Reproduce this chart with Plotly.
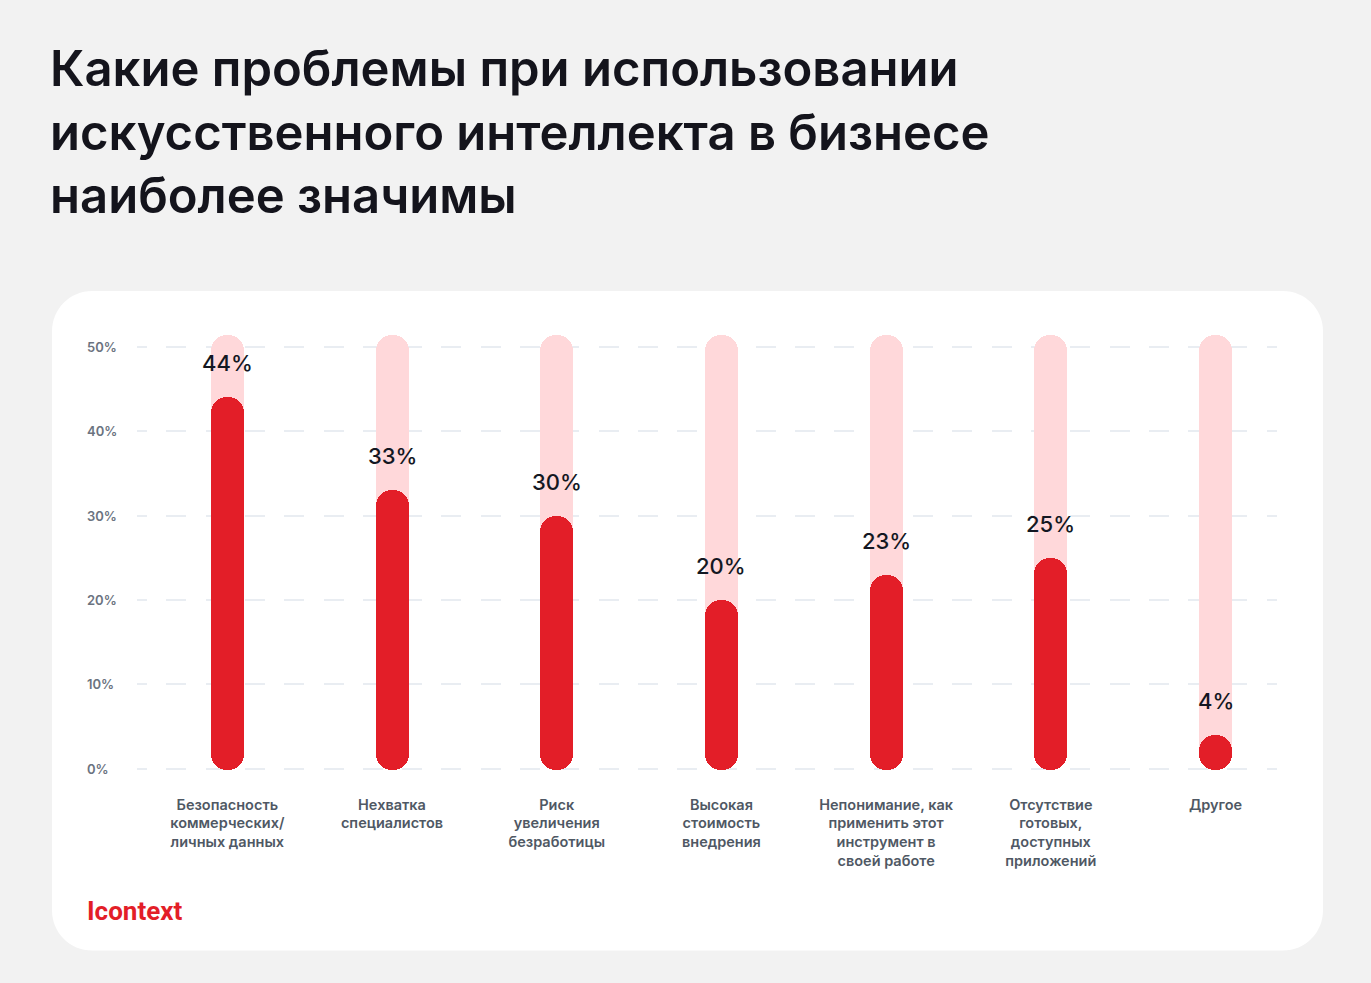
import plotly.graph_objects as go

# ---------------- data ----------------
categories = [
    "Безопасность<br>коммерческих/<br>личных данных",
    "Нехватка<br>специалистов",
    "Риск<br>увеличения<br>безработицы",
    "Высокая<br>стоимость<br>внедрения",
    "Непонимание, как<br>применить этот<br>инструмент в<br>своей работе",
    "Отсутствие<br>готовых,<br>доступных<br>приложений",
    "Другое",
]
values = [44, 33, 30, 20, 23, 25, 4]
y_tick_values = [0, 10, 20, 30, 40, 50]
y_tick_labels = ["0%", "10%", "20%", "30%", "40%", "50%"]
track_max = 51.4      # top of the pale background track
bar_floor = -0.2      # bottom of the rounded bars
title_text = ("Какие проблемы при использовании<br>"
              "искусственного интеллекта в бизнесе<br>"
              "наиболее значимы")
logo_text = "Icontext"

# ---------------- layout constants ----------------
W, H = 1371, 983
L_PX, R_PX = 137, 1277          # plot domain in px (x)
Y0_PX, Y50_PX = 768.3, 346.7    # pixel rows of 0% and 50%
ppu_y = (Y0_PX - Y50_PX) / 50
y_lo, y_hi = -3, 54
top_px = Y0_PX - y_hi * ppu_y
bot_px = Y0_PX - y_lo * ppu_y
first_center_px, step_px = 227.3, 164.7
x_lo = -(first_center_px - L_PX) / step_px
x_hi = (R_PX - first_center_px) / step_px
BAR_PX = 33
bar_w = BAR_PX / step_px

RED = "#e31e28"
PINK = "#ffd8da"
FONT = "Inter"

xs = list(range(len(categories)))


def pxx(p):
    return (p - L_PX) / (R_PX - L_PX)


def pxy(p):
    return (bot_px - p) / (bot_px - top_px)


fig = go.Figure()


def rounded_bar(tops, color):
    fig.add_trace(go.Bar(
        x=xs, y=[t - bar_floor for t in tops], base=[bar_floor] * len(tops),
        width=bar_w,
        marker=dict(color=color, cornerradius="50%", line=dict(width=0)),
        hoverinfo="skip", showlegend=False))


rounded_bar([track_max] * len(values), PINK)
rounded_bar(values, RED)

# value labels
for x, v in zip(xs, values):
    fig.add_annotation(x=x, y=v, xref="x", yref="y", text=f"{v}%",
                       showarrow=False, yshift=34, yanchor="middle",
                       font=dict(family=FONT, size=22, color="#131722", weight=500))

# left-aligned y tick labels
for tv, tl in zip(y_tick_values, y_tick_labels):
    fig.add_annotation(x=pxx(85), y=tv, xref="paper", yref="y", text=tl,
                       showarrow=False, xanchor="left", yanchor="middle",
                       font=dict(family=FONT, size=13, color="#6b7380", weight=600))

# white card
x0, x1, y0, y1, r = 52, 1323, 291, 950, 40
k = 0.5523 * r
pts = [
    ("M", [(x0 + r, y0)]),
    ("L", [(x1 - r, y0)]),
    ("C", [(x1 - r + k, y0), (x1, y0 + r - k), (x1, y0 + r)]),
    ("L", [(x1, y1 - r)]),
    ("C", [(x1, y1 - r + k), (x1 - r + k, y1), (x1 - r, y1)]),
    ("L", [(x0 + r, y1)]),
    ("C", [(x0 + r - k, y1), (x0, y1 - r + k), (x0, y1 - r)]),
    ("L", [(x0, y0 + r)]),
    ("C", [(x0, y0 + r - k), (x0 + r - k, y0), (x0 + r, y0)]),
]
path = ""
for cmd, ps in pts:
    path += cmd + " " + " ".join(f"{pxx(a):.5f},{pxy(b):.5f}" for a, b in ps) + " "
path += "Z"
fig.add_shape(type="path", path=path, xref="paper", yref="paper",
              fillcolor="white", line=dict(width=0), layer="below")

# logo
fig.add_annotation(x=pxx(85), y=pxy(911), xref="paper", yref="paper",
                   text=logo_text, showarrow=False, xanchor="left", yanchor="middle",
                   font=dict(family="Roboto", size=26, color=RED, weight=700))

fig.update_layout(
    width=W, height=H,
    margin=dict(l=L_PX, r=W - R_PX, t=top_px, b=H - bot_px, pad=0),
    paper_bgcolor="#f2f2f2", plot_bgcolor="rgba(0,0,0,0)",
    barmode="overlay", bargap=0,
    title=dict(text=title_text, x=50 / W, xanchor="left", xref="container",
               y=1 - 86 / H, yanchor="top", yref="container",
               font=dict(family=FONT, size=49, color="#14141c", weight=600)),
    xaxis=dict(range=[x_lo, x_hi], tickvals=xs, ticktext=categories,
               showgrid=False, zeroline=False, showline=False, ticks="",
               tickfont=dict(family=FONT, size=14.5, color="#4f5864", weight=600),
               fixedrange=True),
    yaxis=dict(range=[y_lo, y_hi], tickvals=y_tick_values,
               showticklabels=False,
               showgrid=True, gridcolor="#e9edf2", gridwidth=2,
               griddash="10px,19.3px,10px,0px",
               zeroline=False, showline=False, ticks="",
               fixedrange=True),
    showlegend=False,
)

fig.write_html(
    "out.html",
    config={"displayModeBar": False},
    post_script="document.body.style.margin='0';"
                "document.body.style.background='#f2f2f2';",
)
